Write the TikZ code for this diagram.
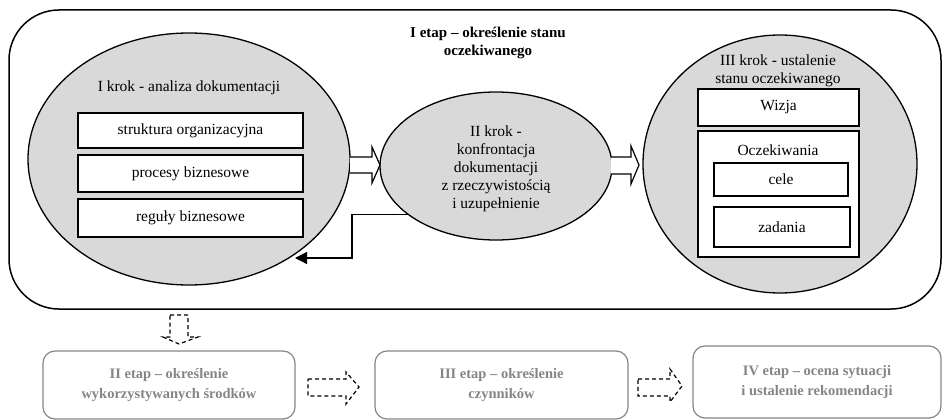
\documentclass[tikz,border=0pt]{standalone}
\usepackage{fontspec}
\setmainfont{Liberation Serif}
\usetikzlibrary{shapes.geometric,arrows.meta,calc}
\definecolor{ellfill}{HTML}{D9D9D9}
\definecolor{stagegray}{HTML}{858585}
\tikzset{
  body/.style={font=\fontsize{15.5}{18}\selectfont},
  stepell/.style={ellipse,draw=black,line width=1.3pt,fill=ellfill,inner sep=0pt},
  itembox/.style={draw=black,line width=1.3pt,fill=white,inner sep=0pt,body},
  hollowarrow/.style={draw=black,line width=1.2pt,line join=miter},
  dasharrow/.style={draw=black,line width=1.2pt,dash pattern=on 4pt off 3pt},
  stagebox/.style={draw=stagegray,line width=1.2pt,rounded corners=12pt,inner sep=0pt,
    text=stagegray,align=center,font=\fontsize{14.5}{20}\selectfont\bfseries},
}
\begin{document}
\begin{tikzpicture}[x=1pt,y=-1pt]
\useasboundingbox (0,0) rectangle (943,420);

% stage I frame
\draw[line width=1.5pt,rounded corners=50pt] (9,10) rectangle (941,309);
\node[align=center,font=\fontsize{15}{18}\selectfont\bfseries] (title) at (488,43)
  {I etap -- określenie stanu\\oczekiwanego};

% three steps
\node[stepell,minimum width=322pt,minimum height=252pt] (e1) at (189,159) {};
\node[stepell,minimum width=232pt,minimum height=148pt] (e2) at (496,166) {};
\node[stepell,minimum width=274pt,minimum height=258pt] (e3) at (780,164) {};

% step I
\node[body] (k1) at (189,88) {I krok - analiza dokumentacji};
\node[itembox,minimum width=225pt,minimum height=35pt] (b1) at (190.5,130.5) {struktura organizacyjna};
\node[itembox,minimum width=225pt,minimum height=37pt] (b2) at (190.5,173.5) {procesy biznesowe};
\node[itembox,minimum width=225pt,minimum height=38pt] (b3) at (190.5,218) {reguły biznesowe};

% step II
\node[body,align=center] (k2) at (496,169)
  {II krok -\\konfrontacja\\dokumentacji\\z rzeczywistością\\i uzupełnienie};

% step III
\node[body,align=center] (k3) at (778,71) {III krok - ustalenie\\stanu oczekiwanego};
\node[itembox,minimum width=161pt,minimum height=37pt] (wiz) at (778.5,107.5) {Wizja};
\node[itembox,minimum width=161pt,minimum height=126pt] (ocz) at (778.5,194) {};
\node[body] (oczt) at (778,150) {Oczekiwania};
\node[itembox,minimum width=134pt,minimum height=33pt] (cele) at (781,179.5) {cele};
\node[itembox,minimum width=136pt,minimum height=40pt] (zad) at (782,227) {zadania};

% hollow arrows between the steps
\fill[white] (350,157) -- (372,157) -- (372,147) -- (380,165) -- (372,183) -- (372,173) -- (350,173) -- cycle;
\draw[hollowarrow] (350,157) -- (372,157) -- (372,147) -- (380,165) -- (372,183) -- (372,173) -- (350,173);
\fill[white] (611,157) -- (631,157) -- (631,146) -- (639,165) -- (631,184) -- (631,174) -- (611,174) -- cycle;
\draw[hollowarrow] (611,157) -- (631,157) -- (631,146) -- (639,165) -- (631,184) -- (631,174) -- (611,174);

% feedback from step II to step I
\coordinate (fbtip) at (295,258);
\draw[line width=1.2pt,-{Triangle[length=12pt,width=12pt]}]
  (e2.209) -| ($(fbtip)+(57,0)$) -- (fbtip);

% later stages
\node[stagebox,minimum width=252pt,minimum height=68pt] (s2) at (169,385)
  {II etap -- określenie\\wykorzystywanych środków};
\node[stagebox,minimum width=253pt,minimum height=68pt] (s3) at (501.5,385)
  {III etap -- określenie\\czynników};
\node[stagebox,minimum width=248pt,minimum height=72pt] (s4) at (817,382)
  {IV etap -- ocena sytuacji\\i ustalenie rekomendacji};

% dashed block arrows
\draw[dasharrow] (170,315) -- (188,315) -- (188,337) -- (198,337) -- (179,344) -- (163,337) -- (170,337) -- cycle;
\draw[dasharrow] (308,379) -- (346,379) -- (346,372) -- (359,387) -- (346,404) -- (346,396) -- (308,396) -- cycle;
\draw[dasharrow] (638,379) -- (670,379) -- (670,369) -- (682,386) -- (670,402) -- (670,396) -- (638,396) -- cycle;
\end{tikzpicture}
\end{document}
